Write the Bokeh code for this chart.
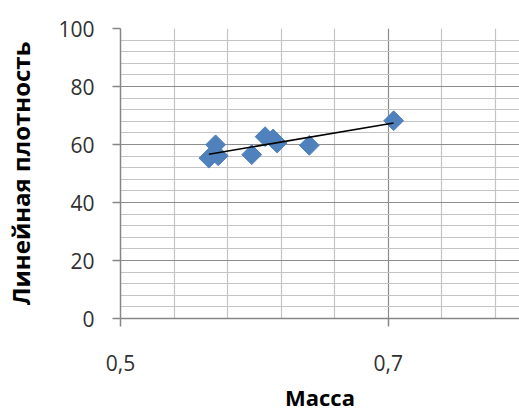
import numpy as np
from bokeh.plotting import figure
from bokeh.models import FixedTicker, Range1d
from bokeh.embed import file_html
from bokeh.resources import INLINE

# Data
mass = [0.566, 0.571, 0.573, 0.598, 0.608, 0.614, 0.617, 0.641, 0.704]
density = [55.3, 59.9, 56.1, 56.5, 62.7, 61.9, 60.5, 59.7, 68.2]

x_major = [0.5, 0.7]
x_labels = ["0,5", "0,7"]
x_minor = [0.54, 0.58, 0.62, 0.66, 0.74, 0.78]
y_major = [0, 20, 40, 60, 80, 100]
y_minor = [v for v in range(0, 101, 4)]

x_title = "Масса"
y_title = "Линейная плотность"

FONT = "Open Sans"
X_MIN, X_MAX = 0.5, 0.798

p = figure(width=519, height=414, output_backend="svg", toolbar_location=None,
           x_range=Range1d(X_MIN, X_MAX), y_range=Range1d(0, 100))
p.min_border_left = 120
p.min_border_right = 0
p.min_border_top = 28
p.min_border_bottom = 95
p.outline_line_color = None
p.background_fill_color = "white"
p.border_fill_color = "white"

p.xaxis.ticker = FixedTicker(ticks=x_major, minor_ticks=x_minor)
p.yaxis.ticker = FixedTicker(ticks=y_major, minor_ticks=y_minor)
p.xaxis.major_label_overrides = {k: v for k, v in zip(x_major, x_labels)}

for ax in (p.xaxis[0], p.yaxis[0]):
    ax.axis_line_color = "#868686"
    ax.axis_line_width = 1.5
    ax.major_tick_line_color = "#868686"
    ax.major_tick_line_width = 1.5
    ax.major_tick_out = 8
    ax.major_tick_in = 0
    ax.minor_tick_line_color = None
    ax.major_label_text_font = FONT
    ax.major_label_text_font_size = "21px"
    ax.major_label_text_color = "#303030"
    ax.axis_label_text_font = FONT
    ax.axis_label_text_font_style = "bold"
    ax.axis_label_text_color = "#000000"

p.xaxis.axis_label = x_title
p.xaxis.axis_label_text_font_size = "22px"
p.yaxis.axis_label = y_title
p.yaxis.axis_label_text_font_size = "24px"
p.xaxis.major_label_standoff = 28
p.xaxis.axis_label_standoff = 8
p.yaxis.major_label_standoff = 18
p.yaxis.axis_label_standoff = 18

for g in (p.xgrid[0], p.ygrid[0]):
    g.grid_line_color = "#8c8c8c"
    g.grid_line_width = 1.2
    g.minor_grid_line_color = "#c4c4c4"
    g.minor_grid_line_width = 1.2

p.scatter(mass, density, marker="square", angle=np.pi / 4, size=14,
          fill_color="#4F81BD", line_color="#4F81BD")

# linear trendline fitted to the data
slope, intercept = np.polyfit(mass, density, 1)
tx = [min(mass), max(mass)]
ty = [slope * v + intercept for v in tx]
p.line(tx, ty, line_color="black", line_width=1.5)

open("out.html", "w").write(file_html(p, INLINE))
